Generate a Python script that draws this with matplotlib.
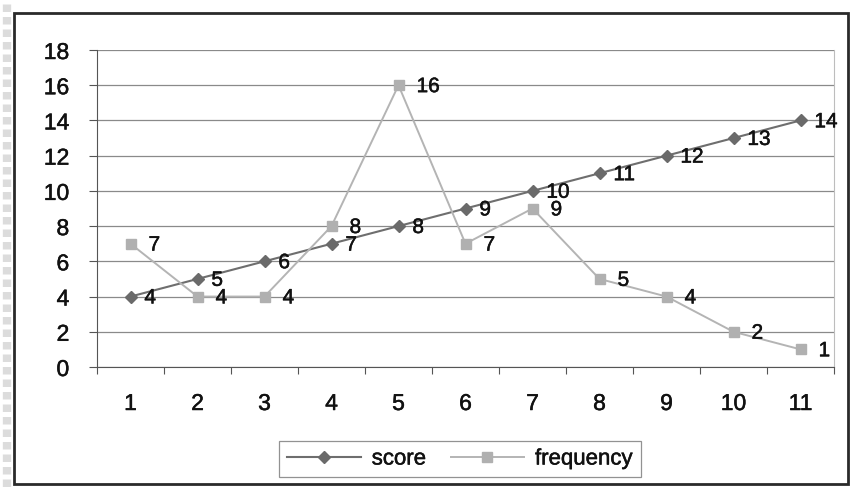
import matplotlib
matplotlib.use("Agg")
import matplotlib.pyplot as plt
from matplotlib.patches import Rectangle
from matplotlib.lines import Line2D
import matplotlib.patheffects as pe

categories = [1, 2, 3, 4, 5, 6, 7, 8, 9, 10, 11]
score = [4, 5, 6, 7, 8, 9, 10, 11, 12, 13, 14]
frequency = [7, 4, 4, 8, 16, 7, 9, 5, 4, 2, 1]
y_ticks = [0, 2, 4, 6, 8, 10, 12, 14, 16, 18]

plt.rcParams['font.family'] = ['Liberation Sans', 'DejaVu Sans']

W, H = 852, 487
fig = plt.figure(figsize=(W / 100, H / 100), dpi=100)
fig.patch.set_facecolor('white')

heavy = [pe.withStroke(linewidth=0.35, foreground='#111111')]

# dashed grey strip along the left edge of the page
fig.add_artist(Line2D([7 / W, 7 / W], [0, 1], transform=fig.transFigure,
                      color='#dcdcdc', linewidth=6, linestyle=(0, (0.9, 0.6))))
# outer chart frame
fig.patches.append(Rectangle((14 / W, 1 - 484 / H), (848 - 14) / W, (484 - 13) / H,
                             transform=fig.transFigure, fill=False,
                             edgecolor='#2a2a2a', linewidth=2.0))

left, right, top, bottom = 97, 834, 50, 367
ax = fig.add_axes([left / W, 1 - bottom / H, (right - left) / W, (bottom - top) / H])

x = list(range(len(categories)))
ax.set_xlim(-0.5, len(categories) - 0.5)
ax.set_ylim(0, 18)
ax.set_yticks(y_ticks)
ax.set_yticklabels([str(v) for v in y_ticks], fontsize=16.5, color='#111111')
ax.set_xticks([i - 0.5 for i in range(len(categories) + 1)], minor=False)
ax.set_xticklabels([])
ax.set_xticks(x, minor=True)
ax.set_xticklabels([str(c) for c in categories], minor=True, fontsize=16.5, color='#111111')
ax.tick_params(axis='x', which='minor', length=0, pad=18)
ax.tick_params(axis='x', which='major', length=5, direction='out', color='#555555')
ax.tick_params(axis='y', length=6, direction='out', color='#555555', pad=14)
for t in ax.get_yticklabels() + ax.get_xticklabels(minor=True):
    t.set_path_effects(heavy)

ax.grid(axis='y', color='#8a8a8a', linewidth=0.9)
ax.set_axisbelow(True)
ax.spines['top'].set_visible(False)
ax.spines['right'].set_color('#bdbdbd')
ax.spines['left'].set_color('#555555')
ax.spines['bottom'].set_color('#555555')

ax.plot(x, score, color='#6e6e6e', linewidth=1.5, marker='D', markersize=6.5,
        markerfacecolor='#6a6a6a', markeredgecolor='#6a6a6a', label='score', zorder=3)
ax.plot(x, frequency, color='#b4b4b4', linewidth=1.4, marker='s', markersize=7,
        markerfacecolor='#b0b0b0', markeredgecolor='#b0b0b0', label='frequency', zorder=3)

for xi, v in zip(x, score):
    ax.annotate(str(v), (xi, v), xytext=(10, -1), textcoords='offset points',
                va='center', ha='left', fontsize=15, color='#111111', zorder=4,
                path_effects=heavy)
for xi, v in zip(x, frequency):
    ax.annotate(str(v), (xi, v), xytext=(13, -1), textcoords='offset points',
                va='center', ha='left', fontsize=15, color='#111111', zorder=4,
                path_effects=heavy)

leg = fig.legend(loc='center', bbox_to_anchor=(460 / W, 1 - 459 / H), ncol=2,
                 fontsize=16, frameon=True, fancybox=False, edgecolor='#777777',
                 handlelength=3.3, columnspacing=1.1, handletextpad=0.5,
                 borderpad=0.35)
leg.get_frame().set_linewidth(0.9)
for t in leg.get_texts():
    t.set_color('#111111')
    t.set_path_effects(heavy)

fig.savefig('out.png', dpi=100, facecolor='white')
